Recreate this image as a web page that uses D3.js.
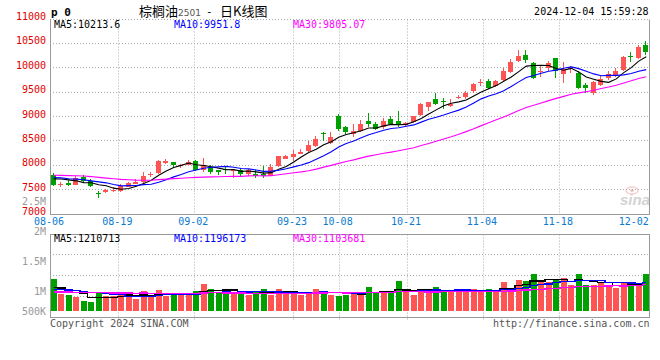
<!DOCTYPE html>
<html><head><meta charset="utf-8">
<script src="https://cdn.jsdelivr.net/npm/d3@7"></script>
<style>body{margin:0;background:#fff}svg{display:block}</style>
</head><body><svg id="c" width="660" height="360"></svg>
<script>
// ---------------- DATA ----------------
const dates = ["08-06","08-07","08-08","08-09","08-12","08-13","08-14","08-15","08-16","08-19","08-20","08-21","08-22","08-23","08-26","08-27","08-28","08-29","08-30",
"09-02","09-03","09-04","09-05","09-06","09-09","09-10","09-11","09-12","09-13","09-18","09-19","09-20","09-23","09-24","09-25","09-26","09-27","09-30",
"10-08","10-09","10-10","10-11","10-14","10-15","10-16","10-17","10-18","10-21","10-22","10-23","10-24","10-25","10-28","10-29","10-30","10-31",
"11-01","11-04","11-05","11-06","11-07","11-08","11-11","11-12","11-13","11-14","11-15","11-18","11-19","11-20","11-21","11-22","11-25","11-26","11-27","11-28","11-29",
"12-02","12-03","12-04"];
const open  = [7800,7590,7630,7590,7740,7670,7430,7435,7470,7455,7545,7600,7650,7800,7833,8040,8050,7975,8000,8073,7888,7955,7890,7905,7885,7890,7820,7805,7820,7765,7965,8120,8150,8230,8285,8380,8660,8450,8995,8775,8640,8690,8895,8845,8765,8930,8900,8810,8880,9015,9185,9345,9300,9205,9380,9400,9510,9680,9715,9620,9735,9905,10125,10260,10095,9915,9985,10180,9870,9965,9890,9645,9480,9645,9780,9820,9940,10225,10180,10465];
const high  = [7840,7640,7680,7760,7780,7700,7455,7500,7535,7600,7645,7700,7850,7860,8100,8120,8050,8025,8090,8105,8135,8000,7900,7975,7905,7935,7905,7890,7970,8025,8180,8205,8300,8315,8490,8585,8675,8665,9035,8790,8830,8910,9065,8880,8950,8995,9105,8880,8995,9260,9285,9480,9370,9340,9425,9510,9685,9755,9755,9735,9985,10165,10350,10350,10110,10040,10125,10190,10100,10030,9920,9685,9715,9850,9925,9985,10235,10315,10450,10535];
const low   = [7565,7540,7560,7585,7650,7535,7310,7430,7450,7435,7545,7595,7610,7740,7820,8010,7930,7930,7985,7880,7860,7810,7785,7820,7730,7765,7770,7720,7720,7760,7950,8110,8080,8215,8265,8355,8490,8420,8695,8625,8560,8670,8765,8710,8725,8810,8775,8775,8860,9000,9105,9230,9140,9190,9340,9340,9480,9615,9560,9600,9700,9890,10110,10095,9755,9800,9920,9780,9680,9890,9550,9480,9425,9615,9730,9800,9920,10110,10165,10260];
const close = [7580,7605,7590,7725,7670,7560,7400,7490,7480,7560,7635,7640,7760,7810,8073,8080,7985,7990,8050,7888,8005,7855,7855,7890,7900,7820,7900,7760,7765,7945,8175,8175,8230,8265,8400,8520,8625,8560,8725,8675,8690,8845,8830,8725,8900,8845,8810,8860,8995,9245,9285,9245,9290,9245,9385,9470,9665,9690,9575,9715,9920,10105,10235,10145,9780,9925,10095,9920,9970,9975,9565,9565,9695,9755,9870,9920,10210,10210,10420,10308];
const volume = [1347000,716000,674000,589000,421000,379000,745000,632000,632000,745000,
632000,518000,842000,602000,884000,632000,674000,674000,703000,842000,
1149000,926000,770000,745000,813000,716000,674000,800000,926000,674000,
926000,716000,745000,674000,800000,926000,842000,674000,644000,674000,
770000,770000,1010000,745000,745000,800000,1263000,884000,674000,926000,
770000,1010000,884000,800000,800000,800000,926000,800000,926000,884000,
1221000,968000,1305000,1263000,1540000,1221000,1221000,1305000,1380000,1095000,
1558000,1095000,1095000,1179000,1010000,968000,1179000,1221000,1137000,1550000];
// estimated history before 08-06 (needed for the moving averages)
const prevClose = [7700,7750,7800,7850,7880,7900,7920,7900,7930,7900,7850,7820,7780,7750,7720,7700,7720,7740,7731,7810,7700,7760,7800,7810,7780,7620,7680,7820,7850];
const prevVolume = [720000,760000,700000,780000,740000,730000,770000,720000,750000,760000,700000,740000,780000,730000,760000,740000,750000,720000,760000,720000,800000,850000,820000,840000,830000,880000,930000,900000,940000];
const axisDates = ["08-06","08-19","09-02","09-23","10-08","10-21","11-04","11-18","12-02"];
const priceTicks = [11000,10500,10000,9500,9000,8500,8000,7500,7000];
const volTicks = [2500000,2000000,1500000,1000000,500000];
const volTickLabels = ["2.5M","2M","1.5M","1M","500K"];
const maPeriods = [5,10,30];
const maColors = ["#000000","#0000ff","#ff00ff"];
const priceMaLegend = ["MA5:10213.6","MA10:9951.8","MA30:9805.07"];
const volMaLegend = ["MA5:1210713","MA10:1196173","MA30:1103681"];

// ---------------- SETUP ----------------
const svg = d3.select("#c");
const L = 50, R = 650;
const UP = "#ff5454", DOWN = "#00a000";
const mono = "'DejaVu Sans Mono', monospace";
const GRID = "#aaaaaa", BORDER = "#999999";

const xBand = d3.scaleBand().domain(d3.range(dates.length)).range([L, R]);
const xGrid = d3.scalePoint().domain(dates).range([L, R]);
const yP = d3.scaleLinear().domain([7000, 11000]).range([213.5, 18.5]);
const yV = d3.scaleLinear().domain([0, 2500000]).range([311, 311 - 2500000 / 42100]);
const yVLabel = d3.scaleLinear().domain([666667, 2500000]).range([311, 201]).clamp(true);
const volTop = 234.5, volBot = 317.5;
const px = v => Math.round(v) + 0.5;
const cx = i => xBand(i) + xBand.bandwidth() / 2;

function movingAvg(hist, arr, n) {
  const all = hist.concat(arr), off = hist.length;
  return arr.map((_, i) => d3.mean(all.slice(off + i - n + 1, off + i + 1)));
}

// ---------------- MAIN PANEL GRID ----------------
const g = svg.append("g");
g.selectAll(".hg").data(priceTicks.filter(v => v > 7000)).join("line")
  .attr("x1", L).attr("x2", R - 1).attr("y1", d => px(yP(d))).attr("y2", d => px(yP(d)))
  .attr("stroke", GRID).attr("stroke-dasharray", "1,2");
const vg = axisDates.filter((d, i) => i > 0 && i < axisDates.length - 1);
g.selectAll(".vg").data(vg).join("line")
  .attr("x1", d => px(xGrid(d))).attr("x2", d => px(xGrid(d)))
  .attr("y1", px(yP(11000))).attr("y2", px(yP(7000)))
  .attr("stroke", GRID).attr("stroke-dasharray", "1,2");
g.append("line").attr("x1", px(L)).attr("x2", px(L)).attr("y1", px(yP(11000))).attr("y2", px(yP(7000))).attr("stroke", BORDER);
g.append("line").attr("x1", px(R - 1)).attr("x2", px(R - 1)).attr("y1", px(yP(11000))).attr("y2", px(yP(7000))).attr("stroke", BORDER);
g.append("line").attr("x1", L).attr("x2", R).attr("y1", px(yP(7000))).attr("y2", px(yP(7000))).attr("stroke", BORDER);

// watermark
const wm = svg.append("g").attr("opacity", 0.5);
wm.append("ellipse").attr("cx", 632).attr("cy", 190.5).attr("rx", 6).attr("ry", 3.5).attr("fill", "none").attr("stroke", "#f0a0a0").attr("stroke-width", 1.5);
wm.append("circle").attr("cx", 632).attr("cy", 190.5).attr("r", 1.6).attr("fill", "#e08080");
wm.append("text").attr("x", 620).attr("y", 205).attr("font-family", "Arial, 'Liberation Sans', sans-serif")
  .attr("font-size", 15).attr("font-weight", "bold").attr("font-style", "italic").attr("fill", "#a8a8a8").text("sina");

// ---------------- CANDLES ----------------
const cg = svg.append("g").attr("shape-rendering", "crispEdges");
const idx = d3.range(dates.length);
const col = i => close[i] >= open[i] ? UP : DOWN;
cg.selectAll(".wick").data(idx).join("rect")
  .attr("x", i => Math.round(cx(i) - 3) + 2).attr("width", 1)
  .attr("y", i => Math.round(yP(high[i])))
  .attr("height", i => Math.max(1, Math.round(yP(low[i])) - Math.round(yP(high[i]))))
  .attr("fill", col);
cg.selectAll(".body").data(idx).join("rect")
  .attr("x", i => Math.round(cx(i) - 3)).attr("width", 5)
  .attr("y", i => Math.round(yP(Math.max(open[i], close[i]))))
  .attr("height", i => Math.max(1, Math.round(yP(Math.min(open[i], close[i]))) - Math.round(yP(Math.max(open[i], close[i])))))
  .attr("fill", col);

maPeriods.forEach((n, k) => {
  const m = movingAvg(prevClose, close, n);
  svg.append("path").datum(m)
    .attr("d", d3.line().x((d, i) => cx(i)).y(d => yP(d)))
    .attr("fill", "none").attr("stroke", maColors[k]).attr("stroke-width", 1.1);
});

svg.selectAll(".pl").data(priceTicks).join("text")
  .attr("x", 46).attr("y", d => yP(d) - 2).attr("dy", "0.36em").attr("text-anchor", "end")
  .attr("font-family", mono).attr("font-size", 10).attr("fill", "#e00000").text(d => d);

svg.selectAll(".dl").data(axisDates).join("text")
  .attr("x", d => Math.min(xGrid(d) - 1, R - 15)).attr("y", 224.6).attr("text-anchor", "middle")
  .attr("font-family", mono).attr("font-size", 10).attr("fill", "#0a7ad0").text(d => d);

// ---------------- VOLUME PANEL ----------------
const vgp = svg.append("g");
vgp.selectAll(".vh").data([0.25, 0.5, 0.75]).join("line")
  .attr("x1", L).attr("x2", R - 1)
  .attr("y1", d => px(volTop + (volBot - volTop) * d - 1)).attr("y2", d => px(volTop + (volBot - volTop) * d - 1))
  .attr("stroke", GRID).attr("stroke-dasharray", "1,2");
vgp.selectAll(".vv").data(vg).join("line")
  .attr("x1", d => px(xGrid(d))).attr("x2", d => px(xGrid(d)))
  .attr("y1", volTop).attr("y2", volBot + 4)
  .attr("stroke", GRID).attr("stroke-dasharray", "1,2");
vgp.append("rect").attr("x", px(L)).attr("y", volTop).attr("width", R - 1 - L).attr("height", volBot - volTop)
  .attr("fill", "none").attr("stroke", BORDER);

const bg = svg.append("g").attr("shape-rendering", "crispEdges");
bg.selectAll(".vb").data(idx).join("rect")
  .attr("x", i => Math.round(cx(i) - 3)).attr("width", 6)
  .attr("y", i => Math.round(yV(volume[i])))
  .attr("height", i => Math.round(yV(0)) - Math.round(yV(volume[i])))
  .attr("fill", col);

maPeriods.forEach((n, k) => {
  const m = movingAvg(prevVolume, volume, n);
  svg.append("path").datum(m)
    .attr("d", d3.line().x((d, i) => cx(i)).y(d => yV(d)).curve(d3.curveStep))
    .attr("fill", "none").attr("stroke", maColors[k]).attr("stroke-width", 1.2).attr("shape-rendering", "crispEdges");
});

svg.selectAll(".vl").data(volTicks).join("text")
  .attr("x", 46).attr("y", d => yVLabel(d) + (d === 2000000 ? 0.8 : 0)).attr("dy", "0.36em").attr("text-anchor", "end")
  .attr("font-family", mono).attr("font-size", 10).attr("fill", "#999").text((d, i) => volTickLabels[i]);

// ---------------- LEGENDS / TITLES ----------------
const legX = [54, 174, 293];
svg.selectAll(".lg1").data(priceMaLegend).join("text")
  .attr("x", (d, i) => legX[i]).attr("y", 27.5).attr("font-family", mono).attr("font-size", 10)
  .attr("fill", (d, i) => maColors[i]).text(d => d);
svg.selectAll(".lg2").data(volMaLegend).join("text")
  .attr("x", (d, i) => legX[i]).attr("y", 241.5).attr("font-family", mono).attr("font-size", 10)
  .attr("fill", (d, i) => maColors[i]).text(d => d);

svg.append("text").attr("x", 51).attr("y", 15.5).attr("font-family", mono).attr("font-size", 11)
  .attr("font-weight", "bold").attr("fill", "#000").text("p 0");
const cjk = "'Noto Sans CJK SC', sans-serif";
svg.append("text").attr("x", 139).attr("y", 16).attr("font-family", cjk).attr("font-size", 13).attr("fill", "#000").text("棕榈油");
svg.append("text").attr("x", 178).attr("y", 16).attr("font-family", "'DejaVu Sans', sans-serif").attr("font-size", 9).attr("fill", "#555").text("2501");
svg.append("text").attr("x", 206).attr("y", 15).attr("font-family", mono).attr("font-size", 11).attr("fill", "#000").text("-");
svg.append("text").attr("x", 220).attr("y", 16).attr("font-family", cjk).attr("font-size", 13).attr("fill", "#000").text("日K线图");
svg.append("text").attr("x", 648.5).attr("y", 15).attr("text-anchor", "end").attr("font-family", mono).attr("font-size", 10).attr("fill", "#000").text("2024-12-04 15:59:28");

svg.append("text").attr("x", 50).attr("y", 327).attr("font-family", mono).attr("font-size", 10).attr("fill", "#555").text("Copyright 2024 SINA.COM");
svg.append("text").attr("x", 649.5).attr("y", 327).attr("text-anchor", "end").attr("font-family", mono).attr("font-size", 10).attr("fill", "#555").text("http://finance.sina.com.cn");
</script></body></html>
